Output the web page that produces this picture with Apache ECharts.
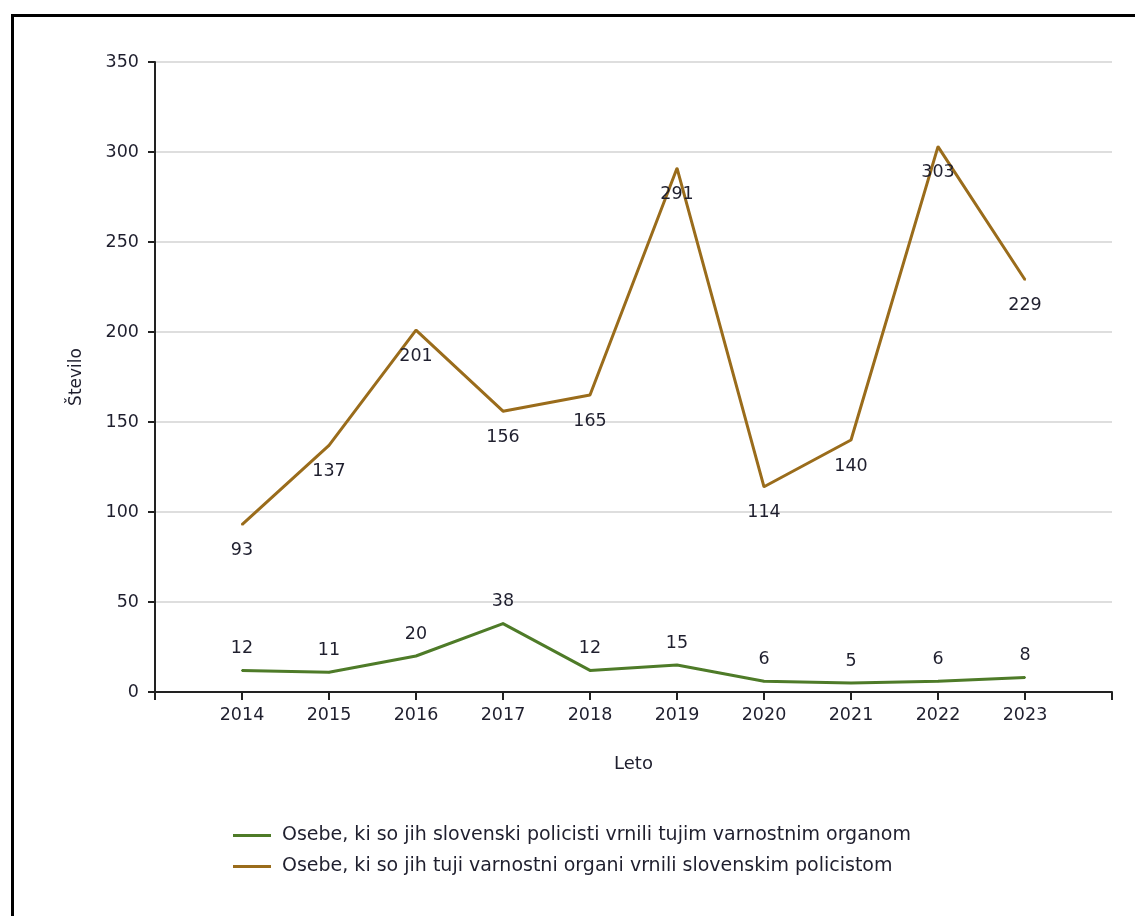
<!DOCTYPE html>
<html>
<head>
<meta charset="utf-8">
<script src="https://cdn.jsdelivr.net/npm/echarts@6/dist/echarts.min.js"></script>
<style>
html,body{margin:0;padding:0;background:#fff;}
#c{width:1135px;height:916px;}
</style>
</head>
<body>
<div id="c"></div>
<script>
var years = [2014, 2015, 2016, 2017, 2018, 2019, 2020, 2021, 2022, 2023];
var seriesNames = [
  'Osebe, ki so jih slovenski policisti vrnili tujim varnostnim organom',
  'Osebe, ki so jih tuji varnostni organi vrnili slovenskim policistom'
];
var returnedBySlovenian = [12, 11, 20, 38, 12, 15, 6, 5, 6, 8];
var returnedByForeign = [93, 137, 201, 156, 165, 291, 114, 140, 303, 229];
var yTicks = [0, 50, 100, 150, 200, 250, 300, 350];

function pairs(vals) { return years.map(function (y, i) { return [y, vals[i]]; }); }

var FONT = 'DejaVu Sans';
var TXT = '#1f1f2e';
var chart = echarts.init(document.getElementById('c'));
chart.setOption({
  animation: false,
  textStyle: { fontFamily: FONT },
  graphic: [{
    type: 'rect', shape: { x: 12.5, y: 15.5, width: 1300, height: 1100 },
    style: { fill: 'none', stroke: '#000', lineWidth: 3 }, silent: true
  }],
  grid: { left: 155, right: 23, top: 62, bottom: 224 },
  xAxis: {
    type: 'value', min: years[0] - 1, max: years[years.length - 1] + 1, interval: 1,
    name: 'Leto', nameLocation: 'middle', nameGap: 63,
    nameTextStyle: { fontFamily: FONT, fontSize: 18, color: TXT },
    axisLine: { lineStyle: { color: '#222', width: 2 } },
    axisTick: { length: 8, lineStyle: { color: '#222', width: 2 } },
    splitLine: { show: false },
    axisLabel: {
      fontFamily: FONT, fontSize: 17.5, color: TXT, margin: 14,
      formatter: function (v) { return years.indexOf(v) >= 0 ? String(v) : ''; }
    }
  },
  yAxis: {
    type: 'value', min: yTicks[0], max: yTicks[yTicks.length - 1], interval: 50,
    name: 'Število', nameLocation: 'middle', nameGap: 70, nameRotate: 90,
    nameTextStyle: { fontFamily: FONT, fontSize: 17, color: TXT },
    axisLine: { show: true, lineStyle: { color: '#222', width: 2 } },
    axisTick: { show: true, length: 7, lineStyle: { color: '#222', width: 2 } },
    splitLine: { lineStyle: { color: '#dedede', width: 2 } },
    axisLabel: { fontFamily: FONT, fontSize: 17.5, color: TXT, margin: 16 }
  },
  legend: {
    orient: 'vertical', left: 228, top: 821, itemGap: 12,
    itemWidth: 38, itemHeight: 3, icon: 'rect',
    textStyle: { fontFamily: FONT, fontSize: 19, color: TXT, padding: [0, 0, 0, 6] },
    data: seriesNames
  },
  series: [{
    name: seriesNames[0], type: 'line', data: pairs(returnedBySlovenian),
    symbol: 'circle', symbolSize: 2, showSymbol: true,
    lineStyle: { color: '#4e7b28', width: 3 }, itemStyle: { color: '#4e7b28' },
    label: { show: true, position: 'top', distance: 12, fontFamily: FONT, fontSize: 17.5, color: TXT,
      formatter: function (p) { return p.value[1]; } }
  }, {
    name: seriesNames[1], type: 'line', data: pairs(returnedByForeign),
    symbol: 'circle', symbolSize: 2, showSymbol: true,
    lineStyle: { color: '#9a6c1b', width: 3 }, itemStyle: { color: '#9a6c1b' },
    label: { show: true, position: 'bottom', distance: 16, fontFamily: FONT, fontSize: 17.5, color: TXT,
      formatter: function (p) { return p.value[1]; } }
  }]
});
</script>
</body>
</html>
